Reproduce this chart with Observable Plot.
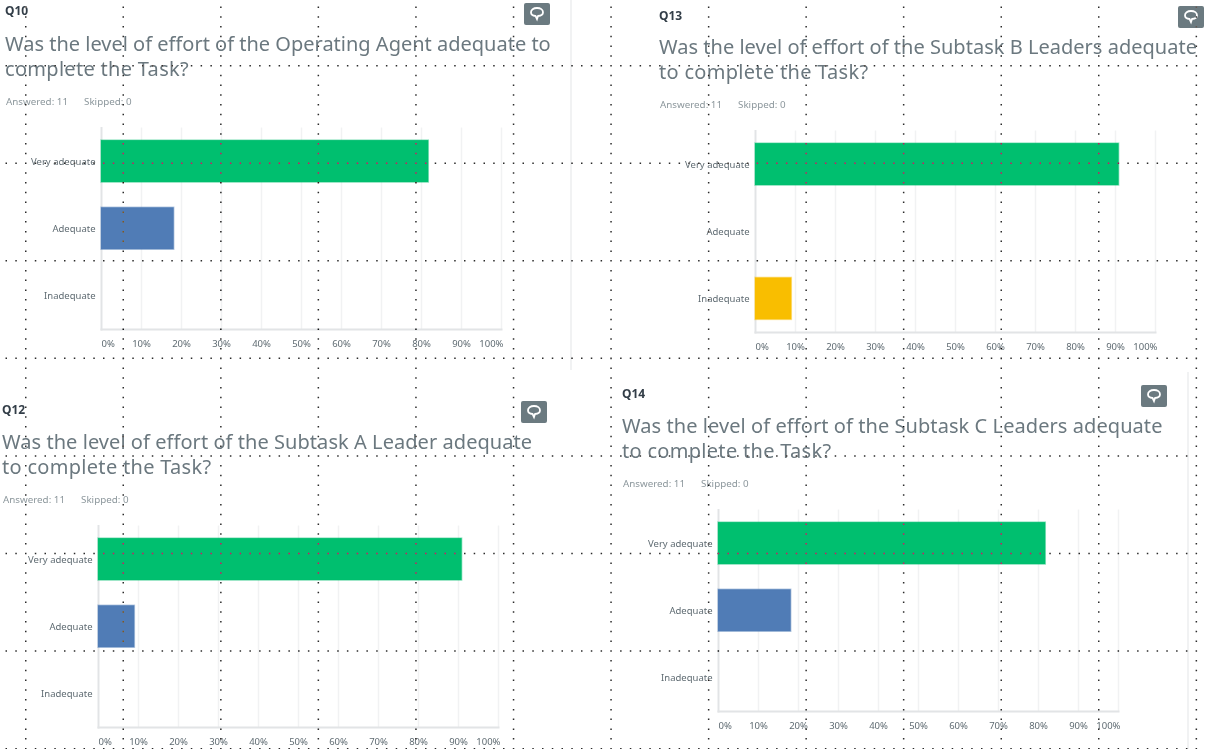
<!DOCTYPE html>
<html><head><meta charset="utf-8">
<script src="https://cdn.jsdelivr.net/npm/d3@7"></script>
<script src="https://cdn.jsdelivr.net/npm/@observablehq/plot@0.6"></script>
<style>
html,body{margin:0;background:#fff;overflow:hidden}
#page{position:relative;width:1205px;height:749px;overflow:hidden;font-family:"Noto Sans",sans-serif;background:#fff}
.panel{position:absolute;left:0;top:0;width:600px;height:370px;filter:blur(.55px)}
.q{position:absolute;left:5px;font-size:12px;font-weight:700;color:#333e48;line-height:14px}
.h{position:absolute;left:5px;top:30.5px;width:560px;font-size:20px;line-height:25.5px;color:#6b787f;white-space:nowrap}
.h .l2{letter-spacing:.3px}
.m{position:absolute;top:95.5px;font-size:9.8px;line-height:12px;color:#8c979c;white-space:nowrap}
.b{position:absolute;left:524px;top:3px;width:26px;height:22px;background:#6b7a80;border-radius:2px}
.b svg{position:absolute;left:5px;top:3px}
.chart{position:absolute;left:0;top:0}
.sep{position:absolute;width:1.5px;background:#f1f2f3}
#dots{position:absolute;left:0;top:0;pointer-events:none;mix-blend-mode:difference}
</style></head>
<body><div id="page"><div class="sep" style="left:570px;top:0;height:370px"></div><div class="sep" style="left:1187px;top:372px;height:377px"></div></div>
<script>
const categories = ["Very adequate", "Adequate", "Inadequate"];
const xTicks = [10, 20, 30, 40, 50, 60, 70, 80, 90];
const gridTicks = [10, 20, 30, 40, 50, 60, 70, 80, 90, 100];
const barColors = ["#00bf6f", "#507cb6", "#f9be00"];
const answeredLabel = "Answered: 11";
const skippedLabel = "Skipped: 0";

const q10Values = [81.82, 18.18, 0];
const q13Values = [90.91, 0, 9.09];
const q12Values = [90.91, 9.09, 0];
const q14Values = [81.82, 18.18, 0];

const panels = [
  {id: "Q10", lines: ["Was the level of effort of the Operating Agent adequate to", "complete the Task?"], values: q10Values, dx: 0, dy: 0, qTop: 4, spacing: 0},
  {id: "Q13", lines: ["Was the level of effort of the Subtask B Leaders adequate", "to complete the Task?"], values: q13Values, dx: 654, dy: 3, qTop: 6, spacing: 0.02},
  {id: "Q12", lines: ["Was the level of effort of the Subtask A Leader adequate", "to complete the Task?"], values: q12Values, dx: -3, dy: 398, qTop: 5, spacing: 0.055},
  {id: "Q14", lines: ["Was the level of effort of the Subtask C Leaders adequate", "to complete the Task?"], values: q14Values, dx: 617, dy: 382, qTop: 5, spacing: 0.07}
];

const page = document.getElementById("page");
const labelFill = "#5f6b72";

for (const p of panels) {
  const rows = categories.map((c, i) => ({category: c, value: p.values[i], color: barColors[i]}));
  const el = document.createElement("div");
  el.className = "panel";
  el.style.transform = `translate(${p.dx}px,${p.dy}px)`;
  el.innerHTML = `<div class="q" style="top:${p.qTop}px">${p.id}</div>
    <div class="h" style="letter-spacing:${p.spacing}px">${p.lines[0]}<br><span class="l2">${p.lines[1]}</span></div>
    <div class="m" style="left:6px">${answeredLabel}</div>
    <div class="m" style="left:84px">${skippedLabel}</div>
    <div class="b"><svg width="16" height="16" viewBox="0 0 16 16"><path d="M8 2C4.400 2 2 3.800 2 6.200 2 8.300 4 9.800 6.600 10L8 13l1-3c2.800-.2 5-1.700 5-3.800C14 3.800 11.600 2 8 2z" fill="none" stroke="#fff" stroke-width="1.800"/></svg></div>`;
  const chart = Plot.plot({
    width: 515,
    height: 360,
    marginLeft: 101,
    marginRight: 14,
    marginTop: 127.5,
    marginBottom: 31,
    style: {background: "transparent", fontFamily: '"Noto Sans",sans-serif', fontSize: "9.5px", overflow: "visible"},
    x: {domain: [0, 100], axis: null},
    y: {domain: categories, paddingInner: 0.375, paddingOuter: 0.1875, axis: null, round: false},
    marks: [
      Plot.ruleX(gridTicks, {stroke: "#f1f2f3", strokeWidth: 1.5}),
      Plot.frame({anchor: "left", stroke: "#e2e4e6", strokeWidth: 2, strokeOpacity: 1}),
      Plot.frame({anchor: "bottom", stroke: "#e2e4e6", strokeWidth: 2, strokeOpacity: 1}),
      Plot.barX(rows.filter(d => d.value > 0), {x: "value", y: "category", fill: "color", stroke: "color", strokeOpacity: 0.4, strokeWidth: 1.5}),
      Plot.axisY({tickSize: 0, tickPadding: 6, label: null, fill: labelFill}),
      Plot.axisX({ticks: [0], tickSize: 0, tickPadding: 11, label: null, textAnchor: "start", fill: labelFill, tickFormat: d => d + "%"}),
      Plot.axisX({ticks: xTicks, tickSize: 0, tickPadding: 11, label: null, fill: labelFill, tickFormat: d => d + "%"}),
      Plot.axisX({ticks: [100], tickSize: 0, tickPadding: 11, dx: 2, label: null, textAnchor: "end", fill: labelFill, tickFormat: d => d + "%"})
    ]
  });
  chart.classList.add("chart");
  el.appendChild(chart);
  page.appendChild(el);
}

// Dotted lattice overlaying the screenshot (scan artefact, not chart data)
const NS = "http://www.w3.org/2000/svg";
const lattice = document.createElementNS(NS, "svg");
lattice.id = "dots";
lattice.setAttribute("width", 1205);
lattice.setAttribute("height", 749);
let d = "";
const dotStep = 97.55 / 10;
for (let k = 0; k < 8; k++) {
  const y = 65 + 97.55 * k;
  for (let n = 0; n * dotStep < 1205; n++) d += `M${(n * dotStep + 5.5).toFixed(1)} ${y.toFixed(1)}h1.5v1.5h-1.5z`;
}
for (let k = 0; k < 13; k++) {
  const x = 25 + 97.55 * k;
  for (let n = 0; n * dotStep < 749; n++) d += `M${x.toFixed(1)} ${(n * dotStep + 6.5).toFixed(1)}h1.5v1.5h-1.5z`;
}
const path = document.createElementNS(NS, "path");
path.setAttribute("d", d);
path.setAttribute("fill", "#d4d4d4");
lattice.appendChild(path);
page.appendChild(lattice);
</script></body></html>
